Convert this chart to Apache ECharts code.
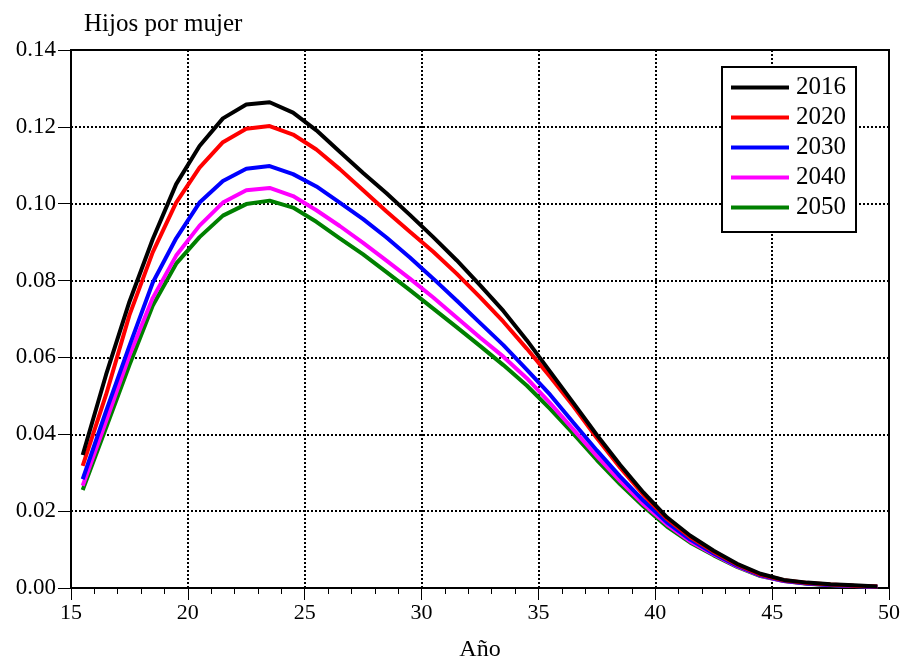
<!DOCTYPE html>
<html><head><meta charset="utf-8">
<script src="https://cdn.jsdelivr.net/npm/echarts@6/dist/echarts.min.js"></script>
<style>html,body{margin:0;padding:0;background:#fff}#c{width:907px;height:667px}</style>
</head><body><div id="c"></div>
<script>
const ages = [15.5,16.5,17.5,18.5,19.5,20.5,21.5,22.5,23.5,24.5,25.5,26.5,27.5,28.5,29.5,30.5,31.5,32.5,33.5,34.5,35.5,36.5,37.5,38.5,39.5,40.5,41.5,42.5,43.5,44.5,45.5,46.5,47.5,48.5,49.5];
const seriesNames = ['2016','2020','2030','2040','2050'];
const s2016 = [0.0346,0.0555,0.0745,0.0908,0.1051,0.1150,0.1222,0.1258,0.1264,0.1237,0.1191,0.1135,0.1080,0.1027,0.0971,0.0913,0.0853,0.0788,0.0721,0.0645,0.0563,0.0481,0.0398,0.0320,0.0248,0.0184,0.0136,0.0097,0.0063,0.0037,0.0021,0.0014,0.0010,0.0007,0.0004];
const s2020 = [0.0318,0.0503,0.0710,0.0874,0.1003,0.1094,0.1160,0.1195,0.1202,0.1180,0.1141,0.1090,0.1035,0.0980,0.0927,0.0875,0.0818,0.0757,0.0693,0.0623,0.0550,0.0473,0.0390,0.0313,0.0242,0.0180,0.0132,0.0094,0.0061,0.0035,0.0020,0.0013,0.0009,0.0006,0.0004];
const s2030 = [0.0283,0.0460,0.0630,0.0795,0.0910,0.1003,0.1059,0.1091,0.1098,0.1077,0.1045,0.1003,0.0960,0.0912,0.0860,0.0805,0.0748,0.0690,0.0632,0.0568,0.0503,0.0430,0.0358,0.0290,0.0227,0.0171,0.0126,0.0090,0.0058,0.0033,0.0019,0.0012,0.0008,0.0005,0.0003];
const s2040 = [0.0266,0.0434,0.0605,0.0755,0.0865,0.0943,0.1003,0.1035,0.1041,0.1020,0.0983,0.0942,0.0898,0.0852,0.0805,0.0756,0.0704,0.0652,0.0602,0.0546,0.0481,0.0412,0.0343,0.0278,0.0218,0.0165,0.0121,0.0087,0.0056,0.0032,0.0018,0.0012,0.0008,0.0005,0.0003];
const s2050 = [0.0255,0.0417,0.0580,0.0735,0.0844,0.0913,0.0969,0.0999,0.1008,0.0990,0.0953,0.0910,0.0868,0.0822,0.0775,0.0727,0.0679,0.0630,0.0580,0.0527,0.0466,0.0401,0.0333,0.0270,0.0212,0.0160,0.0118,0.0085,0.0055,0.0031,0.0018,0.0011,0.0007,0.0005,0.0003];
const allValues = [s2016,s2020,s2030,s2040,s2050];
const colors = ['#000000','#ff0000','#0000ff','#ff00ff','#008000'];
const FONT = '"Liberation Serif","Times New Roman",serif';

const chart = echarts.init(document.getElementById('c'), null, {renderer:'canvas'});
const series = seriesNames.map((n,i)=>({
  name:n, type:'line', showSymbol:false, symbol:'none',
  data: ages.map((a,k)=>[a, allValues[i][k]]),
  lineStyle:{color:colors[i], width:4},
  itemStyle:{color:colors[i]},
  z: 10 - i,
  animation:false
}));
chart.setOption({
  animation:false,
  grid:{left:71, right:18, top:50, bottom:76, show:true, borderColor:'#000', borderWidth:2, backgroundColor:'transparent'},
  title:{text:'Hijos por mujer', left:79, top:7, textStyle:{fontFamily:FONT, fontSize:25, fontWeight:'normal', color:'#000'}},
  legend:{
    orient:'vertical', left:722, top:67,
    padding:[8,10,12,9], itemGap:5, itemWidth:58, itemHeight:4,
    borderColor:'#000', borderWidth:2, backgroundColor:'#fff',
    icon:'rect',
    textStyle:{fontFamily:FONT, fontSize:25, color:'#000', padding:[0,0,0,2], lineHeight:25},
    data: seriesNames
  },
  xAxis:{
    type:'value', min:15, max:50, interval:5,
    name:'Año', nameLocation:'middle', nameGap:50,
    nameTextStyle:{fontFamily:FONT, fontSize:24, color:'#000'},
    axisLine:{show:true, onZero:false, lineStyle:{color:'#000', width:2}},
    axisTick:{show:true, length:12, lineStyle:{color:'#000', width:1}},
    minorTick:{show:true, splitNumber:5, length:6, lineStyle:{color:'#000', width:1}},
    axisLabel:{fontFamily:FONT, fontSize:22, color:'#000', margin:14},
    splitLine:{show:true, lineStyle:{color:'#000', width:2, type:[2,2]}}
  },
  yAxis:{
    type:'value', min:0, max:0.14, interval:0.02,
    axisLine:{show:true, onZero:false, lineStyle:{color:'#000', width:2}},
    axisTick:{show:true, length:13, lineStyle:{color:'#000', width:1}},
    axisLabel:{fontFamily:FONT, fontSize:23, color:'#000', margin:15, formatter:v=>v.toFixed(2)},
    splitLine:{show:true, lineStyle:{color:'#000', width:2, type:[2,2]}}
  },
  series: series
});
</script></body></html>
